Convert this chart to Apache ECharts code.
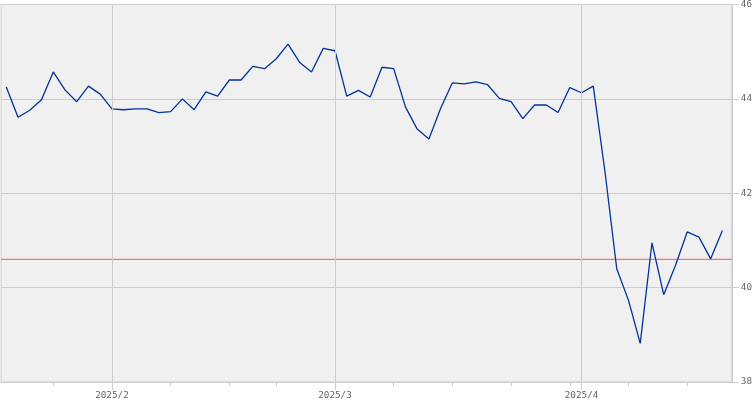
<!DOCTYPE html>
<html>
<head>
<meta charset="utf-8">
<script src="https://cdn.jsdelivr.net/npm/echarts@6/dist/echarts.min.js"></script>
<style>
html,body{margin:0;padding:0;background:#fff;}
#chart{width:755px;height:400px;}
</style>
</head>
<body>
<div id="chart"></div>
<script>
// Trading days (Jan 21 – Apr 17, 2025)
const dates = [
  "2025-01-21","2025-01-22","2025-01-23","2025-01-24",
  "2025-01-27","2025-01-28","2025-01-29","2025-01-30","2025-01-31",
  "2025-02-03","2025-02-04","2025-02-05","2025-02-06","2025-02-07",
  "2025-02-10","2025-02-11","2025-02-12","2025-02-13","2025-02-14",
  "2025-02-18","2025-02-19","2025-02-20","2025-02-21",
  "2025-02-24","2025-02-25","2025-02-26","2025-02-27","2025-02-28",
  "2025-03-03","2025-03-04","2025-03-05","2025-03-06","2025-03-07",
  "2025-03-10","2025-03-11","2025-03-12","2025-03-13","2025-03-14",
  "2025-03-17","2025-03-18","2025-03-19","2025-03-20","2025-03-21",
  "2025-03-24","2025-03-25","2025-03-26","2025-03-27","2025-03-28",
  "2025-03-31","2025-04-01","2025-04-02","2025-04-03","2025-04-04",
  "2025-04-07","2025-04-08","2025-04-09","2025-04-10","2025-04-11",
  "2025-04-14","2025-04-15","2025-04-16","2025-04-17"
];
const prices = [
  44.25,43.61,43.76,43.98,
  44.57,44.19,43.94,44.27,44.10,
  43.79,43.77,43.79,43.79,43.71,
  43.73,44.00,43.77,44.15,44.06,
  44.40,44.40,44.69,44.64,
  44.85,45.16,44.77,44.57,45.07,
  45.02,44.06,44.18,44.04,44.67,
  44.64,43.83,43.36,43.15,43.80,
  44.34,44.32,44.36,44.30,44.01,
  43.94,43.58,43.87,43.87,43.71,
  44.24,44.13,44.27,42.45,40.40,
  39.73,38.82,40.95,39.85,40.47,
  41.18,41.07,40.61,41.21
];
const referenceLevel = 40.6;
const yTicks = [38, 40, 42, 44, 46];

// derived: month starts and week starts (indices into dates)
const monthStarts = [];
const weekStarts = [];
const monthLabel = {};
for (let i = 1; i < dates.length; i++) {
  const d = new Date(dates[i] + "T00:00:00Z");
  const p = new Date(dates[i - 1] + "T00:00:00Z");
  if (d.getUTCMonth() !== p.getUTCMonth()) {
    monthStarts.push(i);
    monthLabel[i] = d.getUTCFullYear() + "/" + (d.getUTCMonth() + 1);
  }
  if (d.getUTCDay() < p.getUTCDay() || (d - p) > 4 * 86400000) weekStarts.push(i);
}

const xMin = -0.45, xMax = dates.length - 1 + 0.8;
const gridLine = '#cccccc';
const labelStyle = { color: '#666', fontFamily: 'DejaVu Sans Mono', fontSize: 9.3 };

const chart = echarts.init(document.getElementById('chart'), null, { renderer: 'canvas' });
chart.setOption({
  animation: false,
  backgroundColor: '#ffffff',
  tooltip: { show: false },
  axisPointer: { show: false },
  grid: {
    left: 1, right: 21, top: 2, bottom: 18,
    show: true, backgroundColor: '#f0f0f0', borderColor: gridLine, borderWidth: 1
  },
  xAxis: [
    {
      type: 'value', min: xMin, max: xMax, position: 'bottom',
      axisLine: { show: true, onZero: false, lineStyle: { color: gridLine } },
      axisTick: { show: true, customValues: weekStarts, length: 4, lineStyle: { color: gridLine } },
      axisLabel: { show: false },
      splitLine: { show: false },
      axisPointer: { show: false }
    },
    {
      type: 'value', min: xMin, max: xMax, position: 'bottom',
      axisLine: { show: false, onZero: false },
      axisTick: { show: true, customValues: monthStarts, length: 8, lineStyle: { color: gridLine } },
      axisLabel: Object.assign({ show: true, customValues: monthStarts, margin: 9,
        formatter: v => monthLabel[Math.round(v)] || '' }, labelStyle),
      splitLine: { show: false },
      axisPointer: { show: false }
    }
  ],
  yAxis: {
    type: 'value', position: 'right', min: 38, max: 46, interval: 2,
    axisLine: { show: true, onZero: false, lineStyle: { color: gridLine } },
    axisTick: { show: true, length: 7, lineStyle: { color: gridLine } },
    axisLabel: Object.assign({ margin: 9 }, labelStyle),
    splitLine: { show: true, lineStyle: { color: gridLine, width: 1 } },
    axisPointer: { show: false }
  },
  series: [
    {
      // month gridlines
      type: 'line', xAxisIndex: 0, data: [], z: 1, silent: true,
      markLine: {
        silent: true, symbol: 'none', label: { show: false }, animation: false,
        lineStyle: { color: gridLine, width: 1, type: 'solid' },
        data: monthStarts.map(i => ({ xAxis: i }))
      }
    },
    {
      // reference level
      type: 'line', xAxisIndex: 0, z: 2, silent: true, showSymbol: false,
      color: '#ff7070',
      lineStyle: { color: '#ff7070', width: 1.2, type: 'solid', opacity: 1 },
      data: [[xMin, referenceLevel], [xMax, referenceLevel]]
    },
    {
      type: 'line', xAxisIndex: 0, z: 3,
      data: prices.map((v, i) => [i, v]),
      showSymbol: false,
      color: '#003399',
      lineStyle: { color: '#003399', width: 1.3 }
    }
  ]
});
</script>
</body>
</html>
